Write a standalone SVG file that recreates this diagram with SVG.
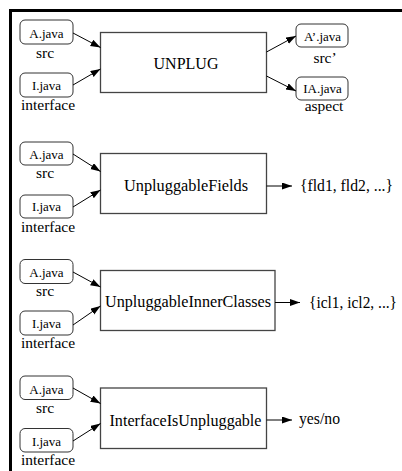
<svg xmlns="http://www.w3.org/2000/svg" width="402" height="471" viewBox="0 0 402 471">
<style>
.sm{fill:#fff;stroke:#333;stroke-width:1}
.bx{fill:#fff;stroke:#444;stroke-width:1.3}
text{font-family:"Liberation Serif","Times New Roman",serif;fill:#000}
.l{font-size:13px;text-anchor:middle}
.c{font-size:15.5px;text-anchor:middle}
.m{font-size:16px;text-anchor:middle}
.o{font-size:16px}
.cn line{stroke:#000;stroke-width:1;marker-end:url(#ah)}
</style>
<defs>
<marker id="ah" markerUnits="userSpaceOnUse" markerWidth="11" markerHeight="8" refX="10" refY="3.5" orient="auto">
<path d="M0,0 L10,3.5 L0,7 z" fill="#000"/>
</marker>
</defs>
<rect width="402" height="471" fill="#fff"/>
<g id="frame" stroke="#000" stroke-width="3">
<line x1="9" y1="10.5" x2="402" y2="10.5"/>
<line x1="10.5" y1="9" x2="10.5" y2="471"/>
</g>

<!-- Row 1 -->
<g id="r1-a"><rect class="sm" x="20" y="20" width="53" height="24" rx="5"/><text class="l" x="46.5" y="38">A.java</text><text class="c" x="45" y="58">src</text></g>
<g id="r1-i"><rect class="sm" x="20" y="73" width="53" height="24" rx="5"/><text class="l" x="46.5" y="90">I.java</text><text class="c" x="48" y="110">interface</text></g>
<g id="r1-main"><rect class="bx" x="100.5" y="32.5" width="166" height="60"/><text class="m" x="186" y="69">UNPLUG</text></g>
<g id="r1-ap"><rect class="sm" x="296" y="24" width="52" height="23" rx="5"/><text class="l" x="322.5" y="40.5">A’.java</text><text class="c" x="325" y="62.5">src’</text></g>
<g id="r1-ia"><rect class="sm" x="296" y="77" width="52" height="23" rx="5"/><text class="l" x="322.5" y="93">IA.java</text><text class="c" x="324" y="110.5">aspect</text></g>

<!-- Row 2 -->
<g id="r2-a"><rect class="sm" x="20" y="142" width="53" height="23" rx="5"/><text class="l" x="46.5" y="158.5">A.java</text><text class="c" x="45" y="178">src</text></g>
<g id="r2-i"><rect class="sm" x="20" y="195" width="53" height="23" rx="5"/><text class="l" x="46.5" y="211">I.java</text><text class="c" x="48" y="231.5">interface</text></g>
<g id="r2-main"><rect class="bx" x="100.5" y="153.5" width="166" height="60"/><text class="m" x="186" y="191" textLength="124" lengthAdjust="spacingAndGlyphs">UnpluggableFields</text></g>
<g id="r2-out"><text class="o" x="300" y="191" textLength="93" lengthAdjust="spacingAndGlyphs">{fld1, fld2, ...}</text></g>

<!-- Row 3 -->
<g id="r3-a"><rect class="sm" x="20" y="259.5" width="53" height="24" rx="5"/><text class="l" x="46.5" y="277">A.java</text><text class="c" x="45" y="295.5">src</text></g>
<g id="r3-i"><rect class="sm" x="20" y="311" width="53" height="24" rx="5"/><text class="l" x="46.5" y="328">I.java</text><text class="c" x="48" y="347.5">interface</text></g>
<g id="r3-main"><rect class="bx" x="100.5" y="270.5" width="174.5" height="60"/><text class="m" x="188" y="307" textLength="166" lengthAdjust="spacingAndGlyphs">UnpluggableInnerClasses</text></g>
<g id="r3-out"><text class="o" x="309" y="308" textLength="88" lengthAdjust="spacingAndGlyphs">{icl1, icl2, ...}</text></g>

<!-- Row 4 -->
<g id="r4-a"><rect class="sm" x="20" y="376" width="53" height="23.5" rx="5"/><text class="l" x="46.5" y="393.5">A.java</text><text class="c" x="45" y="412.5">src</text></g>
<g id="r4-i"><rect class="sm" x="20" y="428.5" width="53" height="23.5" rx="5"/><text class="l" x="46.5" y="445.5">I.java</text><text class="c" x="48" y="465">interface</text></g>
<g id="r4-main"><rect class="bx" x="100.5" y="388" width="166" height="60.5"/><text class="m" x="185.5" y="425.5" textLength="152" lengthAdjust="spacingAndGlyphs">InterfaceIsUnpluggable</text></g>
<g id="r4-out"><text class="o" x="299" y="424" textLength="41" lengthAdjust="spacingAndGlyphs">yes/no</text></g>

<g id="connectors" class="cn">
<line x1="73" y1="33" x2="100.5" y2="47.5"/>
<line x1="73" y1="85" x2="100.5" y2="69"/>
<line x1="266.5" y1="52" x2="296" y2="36"/>
<line x1="266.5" y1="76" x2="296" y2="91"/>

<line x1="73" y1="154" x2="100.5" y2="171.5"/>
<line x1="73" y1="207" x2="100.5" y2="190"/>
<line x1="266.5" y1="186" x2="292" y2="186"/>

<line x1="73" y1="272" x2="100.5" y2="287"/>
<line x1="73" y1="325" x2="100.5" y2="306"/>
<line x1="275" y1="302.5" x2="300" y2="302.5"/>

<line x1="73" y1="388" x2="100.5" y2="403.5"/>
<line x1="73" y1="441" x2="100.5" y2="423.5"/>
<line x1="266.5" y1="420" x2="292" y2="420"/>
</g>
</svg>
